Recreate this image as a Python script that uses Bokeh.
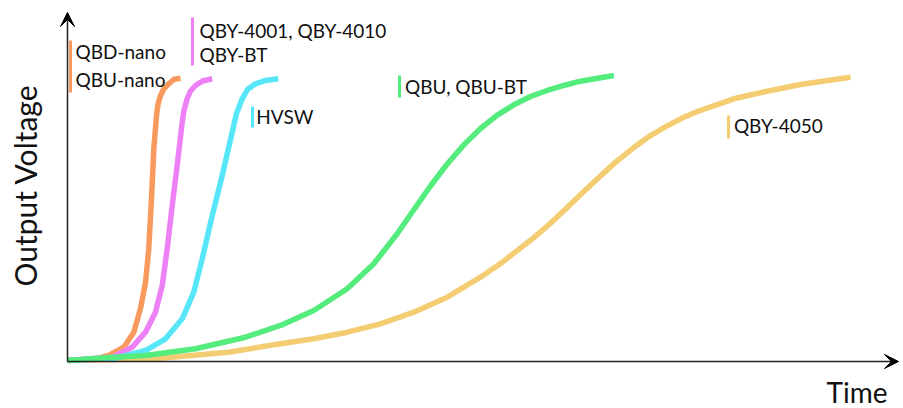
from bokeh.plotting import figure
from bokeh.models import Range1d, Arrow, VeeHead, Label
from bokeh.embed import file_html
from bokeh.resources import INLINE

# ---- data (time, output voltage) ----
qbd_t = [0, 3.5, 5.16, 7.04, 8.29, 9.125, 9.75, 10.16, 10.5, 10.79, 11.125, 11.31, 11.625, 12.06, 12.66, 13.31, 14.125]
qbd_v = [0.29, 0.77, 1.71, 4.09, 8.37, 15.14, 22.57, 32.29, 46.57, 60.86, 70.29, 73.43, 76.0, 78.0, 79.34, 80.63, 80.94]

qby4001_t = [0, 5.59, 8.09, 9.75, 11.0, 11.84, 12.46, 13.09, 13.71, 14.34, 14.56, 14.96, 15.375, 16.0, 16.875, 18.09]
qby4001_v = [0.29, 1.23, 4.09, 8.37, 14.09, 21.71, 32.2, 44.57, 56.0, 68.37, 71.71, 75.06, 77.29, 78.86, 80.14, 80.77]

hvsw_t = [0, 6.0, 9.75, 12.25, 14.34, 15.79, 16.84, 18.09, 19.34, 20.59, 21.125, 21.84, 22.5, 23.5, 24.75, 26.34]
hvsw_v = [0.29, 0.94, 3.14, 6.49, 12.2, 19.8, 29.34, 41.71, 53.14, 65.51, 70.86, 75.06, 77.71, 79.34, 80.29, 80.77]

qbu_t = [0, 4.125, 9.75, 16.0, 22.25, 26.625, 30.79, 34.96, 38.29, 41.21, 43.29, 45.375, 47.46, 49.54,
         51.625, 53.71, 55.79, 57.875, 59.96, 62.04, 64.125, 68.29]
qbu_v = [0.29, 1.0, 1.71, 3.63, 6.94, 10.29, 14.57, 20.77, 27.91, 36.49, 43.37, 50.14, 56.43, 61.89,
         66.57, 70.4, 73.34, 75.71, 77.43, 78.86, 80.09, 81.71]

qby4050_t = [0, 6.625, 11.875, 20.125, 26.625, 30.79, 34.96, 39.125, 43.29, 47.46, 51.625, 54.125, 58.29,
             60.375, 62.46, 64.54, 66.625, 68.71, 70.79, 72.875, 74.96, 77.04, 79.125, 83.29, 87.46,
             91.625, 97.875]
qby4050_v = [0.29, 0.57, 1.0, 2.66, 5.06, 6.49, 8.37, 10.77, 14.09, 18.37, 24.09, 27.97, 35.4,
             39.51, 44.0, 48.54, 53.03, 57.31, 61.11, 64.54, 67.31, 69.77, 71.77, 75.06, 77.23,
             79.14, 81.23]

label_lines = [["QBD-nano", "QBU-nano"], ["QBY-4001, QBY-4010", "QBY-BT"], ["HVSW"], ["QBU, QBU-BT"], ["QBY-4050"]]
axis_titles = ["Time", "Output Voltage"]

# ---- styles ----
C_ORANGE = "#F89A5E"
C_PINK = "#EE80F6"
C_CYAN = "#56E6F8"
C_GREEN = "#55EC7E"
C_YELLOW = "#F4CD72"
FONT = "Lato"
TXT = "#111111"

p = figure(width=903, height=408, x_range=Range1d(-8.375, 104.5), y_range=Range1d(-13.43, 103.14),
           x_axis_location=None, y_axis_location=None, toolbar_location=None,
           output_backend="svg", min_border=0, outline_line_color=None)
p.xgrid.visible = False
p.ygrid.visible = False

LW = 5.5
for t, v, col in [(qby4050_t, qby4050_v, C_YELLOW), (qbd_t, qbd_v, C_ORANGE),
                  (qby4001_t, qby4001_v, C_PINK), (hvsw_t, hvsw_v, C_CYAN), (qbu_t, qbu_v, C_GREEN)]:
    p.line(t, v, line_color=col, line_width=LW, line_join="round")

# axes with arrow heads
p.add_layout(Arrow(end=VeeHead(size=14, fill_color="black", line_color="black"),
                   x_start=0, y_start=0, x_end=0, y_end=99.71, line_color="#222222", line_width=1.5))
p.add_layout(Arrow(end=VeeHead(size=14, fill_color="black", line_color="black"),
                   x_start=0, y_start=0, x_end=103.875, y_end=0, line_color="#222222", line_width=1.5))

# label marker bars
bars = [
    (0.375, 76.86, 91.71, C_ORANGE),
    (15.625, 84.57, 98.29, C_PINK),
    (23.125, 66.86, 72.86, C_CYAN),
    (41.5, 75.43, 81.71, C_GREEN),
    (82.625, 63.71, 70.29, C_YELLOW),
]
for bx, y0, y1, col in bars:
    p.segment(x0=[bx], y0=[y0], x1=[bx], y1=[y1], line_color=col, line_width=3)

label_pos = [
    [(1.0, 88.47), (1.0, 80.47)],
    [(16.5, 94.47), (16.5, 87.61)],
    [(23.6, 70.04)],
    [(42.2, 78.47)],
    [(83.3, 67.33)],
]
for lines, poss in zip(label_lines, label_pos):
    for txt, (lx, ly) in zip(lines, poss):
        p.add_layout(Label(x=lx, y=ly, text=txt, text_font=FONT, text_font_size="19px",
                           text_color=TXT, text_baseline="alphabetic", text_align="left"))

p.add_layout(Label(x=-5.31, y=50.29, text=axis_titles[1], angle=1.5707963, text_font=FONT,
                   text_font_size="30px", text_color=TXT, text_baseline="alphabetic", text_align="center"))
p.add_layout(Label(x=102.5, y=-8.85, text=axis_titles[0], text_font=FONT,
                   text_font_size="28px", text_color=TXT, text_baseline="alphabetic", text_align="right"))

open("out.html", "w").write(file_html(p, INLINE))
